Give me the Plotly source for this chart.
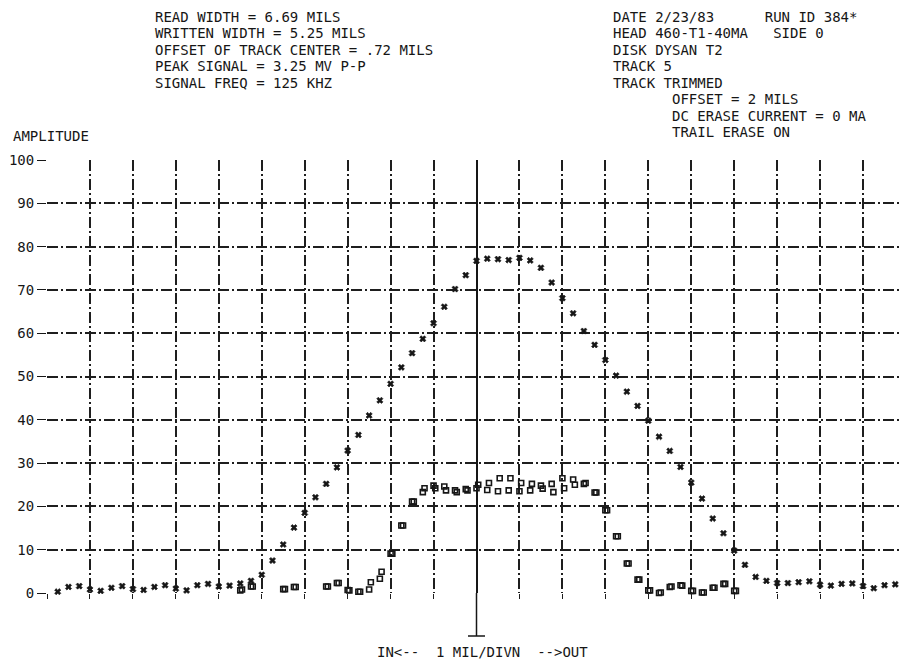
import plotly.graph_objects as go

# ---- data ----
x_step_start = -9.75
cross_amp = [0.3, 1.4, 1.6, 0.8, 0.5, 1.2, 1.6, 0.9, 0.7, 1.4, 1.8, 1.0, 0.6, 1.8, 2.1, 1.5,
             1.7, 2.2, 2.8, 4.2, 7.5, 11.2, 15.1, 18.5, 22.1, 25.2, 29.0, 32.9, 36.5, 41.0,
             44.5, 48.3, 52.1, 55.4, 58.7, 62.3, 66.1, 70.2, 73.4, 76.7, 77.2, 77.1, 76.9,
             77.4, 76.8, 75.1, 71.7, 68.1, 64.6, 60.5, 57.3, 53.8, 50.2, 46.5, 43.2, 39.8,
             36.1, 32.8, 29.1, 25.5, 21.8, 17.2, 13.8, 9.8, 6.5, 3.7, 2.8, 2.3, 2.3, 2.5,
             2.7, 1.9, 1.7, 2.1, 2.2, 1.6, 1.1, 1.8, 2.0]
cross_pos = [x_step_start + 0.25 * i for i in range(len(cross_amp))]

sq_start = -6.0
sq_amp_a = [-0.8, -1.0, 0.6, 1.5, -0.2, -0.6, 0.9, 1.4, -0.4, -0.9, 1.5, 2.3, 0.7, 0.3,
            0.8, 3.3, 9.1, 15.6, 21.1, 23.3, 24.8, 24.6, 23.7, 24.0, 24.2, 23.8, 23.5,
            23.7, 23.5, 23.7, 24.8, 25.2, 26.5, 26.2, 25.2, 23.2, 19.1, 13.1, 6.8, 3.1,
            0.6, 0.0, 1.4, 1.8, 0.5, 0.1, 1.2, 2.1, 0.5, -0.9]
sq_amp_b = [-0.9, -1.1, 0.8, 1.5, -0.4, -0.6, 0.9, 1.4, -0.4, -0.9, 1.5, 2.3, 0.6, 0.3,
            2.5, 4.9, 9.1, 15.6, 21.1, 24.2, 24.2, 23.7, 23.3, 23.7, 25.0, 25.4, 26.5,
            26.5, 25.4, 25.2, 24.1, 23.3, 24.2, 25.0, 25.4, 23.2, 19.1, 13.1, 6.8, 3.1,
            0.6, 0.1, 1.5, 1.7, 0.5, 0.1, 1.2, 2.1, 0.5, -0.9]
sq_pos_a = [sq_start + 0.25 * i for i in range(len(sq_amp_a))]
sq_pos_b = [sq_start + 0.25 * i + 0.04 for i in range(len(sq_amp_b))]

left_lines = ["READ WIDTH = 6.69 MILS",
              "WRITTEN WIDTH = 5.25 MILS",
              "OFFSET OF TRACK CENTER = .72 MILS",
              "PEAK SIGNAL = 3.25 MV P-P",
              "SIGNAL FREQ = 125 KHZ"]
right_lines = ["DATE 2/23/83      RUN ID 384*",
               "HEAD 460-T1-40MA   SIDE 0",
               "DISK DYSAN T2",
               "TRACK 5",
               "TRACK TRIMMED",
               "       OFFSET = 2 MILS",
               "       DC ERASE CURRENT = 0 MA",
               "       TRAIL ERASE ON"]
y_label = "AMPLITUDE"
x_caption = "IN<--  1 MIL/DIVN  -->OUT"

# ---- layout geometry (page has an 8px body margin) ----
OFF = 8
W, H = 907 - OFF, 662 - OFF
ML, MR, MT, MB = 47 - OFF, 1, 160 - OFF, 69
PW, PH = W - ML - MR, H - MT - MB
FONT = "DejaVu Sans Mono"
INK = "#161616"


def px(xp):
    # page pixel -> paper x
    return (xp - OFF - ML) / PW


def py(yp):
    # page pixel -> paper y
    return (H + OFF - MB - yp) / PH


fig = go.Figure()
sq_marker = dict(symbol="square-open", size=5, color=INK, line=dict(width=1.6, color=INK))
fig.add_trace(go.Scatter(x=sq_pos_a, y=sq_amp_a, mode="markers", marker=sq_marker,
                         showlegend=False, cliponaxis=False))
fig.add_trace(go.Scatter(x=sq_pos_b, y=sq_amp_b, mode="markers", marker=sq_marker,
                         showlegend=False, cliponaxis=False))
fig.add_trace(go.Scatter(x=cross_pos, y=cross_amp, mode="markers",
                         marker=dict(symbol="x", size=5.5, color=INK,
                                     line=dict(width=0.6, color=INK)),
                         showlegend=False, cliponaxis=False))

annotations = []
for i, t in enumerate(left_lines):
    annotations.append(dict(text=t, x=px(153), y=py(16.7 + 16.5 * i), xref="paper", yref="paper",
                            xanchor="left", yanchor="middle", showarrow=False))
for i, t in enumerate(right_lines):
    annotations.append(dict(text=t.replace(" ", "&nbsp;"), x=px(611), y=py(16.7 + 16.5 * i),
                            xref="paper", yref="paper",
                            xanchor="left", yanchor="middle", showarrow=False))
annotations.append(dict(text=y_label, x=px(11), y=py(136), xref="paper", yref="paper",
                        xanchor="left", yanchor="middle", showarrow=False))
annotations.append(dict(text=x_caption.replace(" ", "&nbsp;"), x=px(482), y=py(652),
                        xref="paper", yref="paper",
                        xanchor="center", yanchor="middle", showarrow=False))

shapes = [
    dict(type="line", xref="paper", yref="paper", x0=0.5, x1=0.5, y0=0, y1=py(636),
         line=dict(color=INK, width=1.5)),
    dict(type="line", xref="paper", yref="paper", x0=px(468), x1=px(485), y0=py(636), y1=py(636),
         line=dict(color=INK, width=1.5)),
]

grid_dash = "11px,3px,2px,3px"
GRID = "#1e1e1e"
fig.update_layout(
    width=W, height=H,
    margin=dict(l=ML, r=MR, t=MT, b=MB, pad=0),
    paper_bgcolor="white", plot_bgcolor="white",
    font=dict(family=FONT, size=14, color=INK),
    annotations=annotations, shapes=shapes,
    xaxis=dict(range=[-10, 10], dtick=1, tick0=0, showticklabels=False,
               showgrid=True, gridcolor=GRID, gridwidth=1.5, griddash=grid_dash,
               zeroline=True, zerolinecolor=INK, zerolinewidth=1.6,
               ticks="outside", ticklen=5, tickcolor=GRID, tickwidth=1.4,
               showline=False, fixedrange=True),
    yaxis=dict(range=[0, 100], dtick=10, tick0=0,
               showgrid=True, gridcolor=GRID, gridwidth=1.5, griddash=grid_dash,
               zeroline=False,
               ticks="outside", ticklen=9, tickcolor=INK, tickwidth=1.4,
               tickfont=dict(family=FONT, size=14, color=INK),
               showline=False, fixedrange=True),
)

fig.write_html("out.html")
